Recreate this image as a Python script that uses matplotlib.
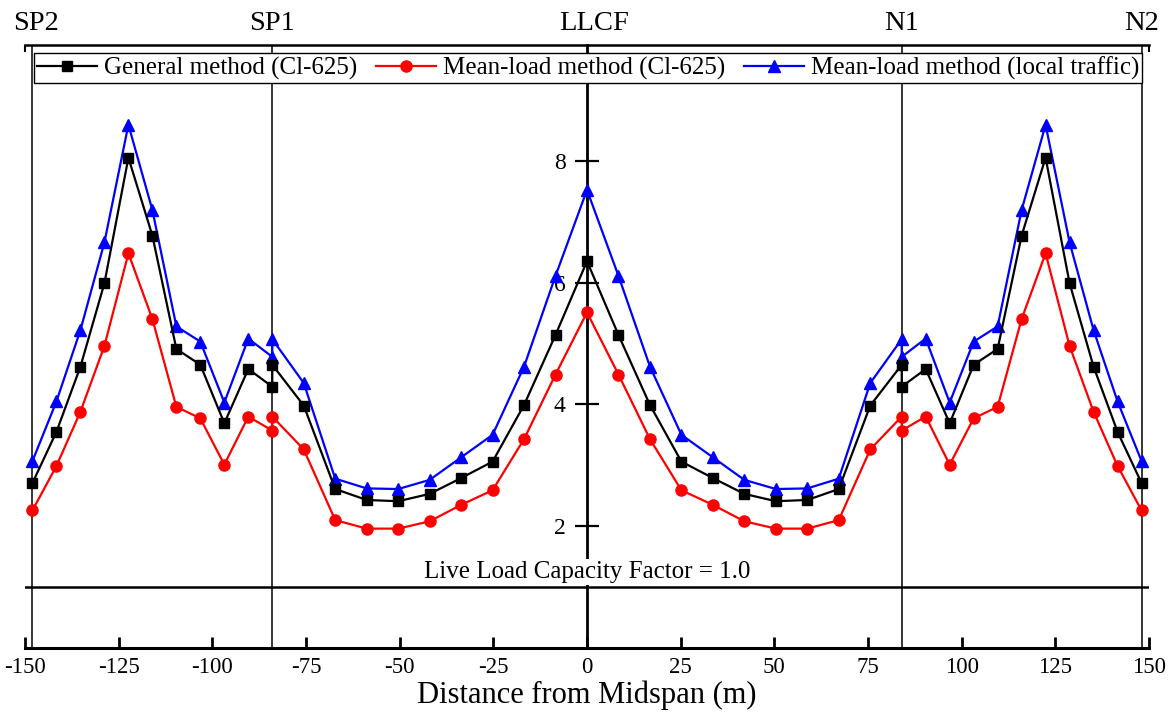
import matplotlib
matplotlib.use('Agg')
import matplotlib.pyplot as plt
import matplotlib.transforms as mtransforms

plt.rcParams['font.family'] = ['Liberation Serif', 'DejaVu Serif']
plt.rcParams['axes.unicode_minus'] = False

# ---------------- data ----------------
x_side_left = [-148.0, -141.6, -135.2, -128.8, -122.4, -116.0, -109.6, -103.2, -96.8, -90.4, -84.0]
x_main = [-84.0, -75.6, -67.2, -58.8, -50.4, -42.0, -33.6, -25.2, -16.8, -8.4, 0.0,
          8.4, 16.8, 25.2, 33.6, 42.0, 50.4, 58.8, 67.2, 75.6, 84.0]
x_side_right = [84.0, 90.4, 96.8, 103.2, 109.6, 116.0, 122.4, 128.8, 135.2, 141.6, 148.0]

general_left = [2.71, 3.55, 4.62, 5.99, 8.05, 6.77, 4.91, 4.65, 3.69, 4.58, 4.29]
general_main = [4.65, 3.98, 2.61, 2.43, 2.41, 2.53, 2.79, 3.06, 3.99, 5.14, 6.35,
                5.14, 3.99, 3.06, 2.79, 2.53, 2.41, 2.43, 2.61, 3.98, 4.65]
general_right = [4.29, 4.58, 3.69, 4.65, 4.91, 6.77, 8.05, 5.99, 4.62, 3.55, 2.71]

mean_cl_left = [2.26, 2.99, 3.88, 4.96, 6.48, 5.40, 3.96, 3.77, 3.01, 3.80, 3.57]
mean_cl_main = [3.80, 3.26, 2.10, 1.96, 1.96, 2.08, 2.35, 2.59, 3.43, 4.49, 5.51,
                4.49, 3.43, 2.59, 2.35, 2.08, 1.96, 1.96, 2.10, 3.26, 3.80]
mean_cl_right = [3.57, 3.80, 3.01, 3.77, 3.96, 5.40, 6.48, 4.96, 3.88, 2.99, 2.26]

mean_local_left = [3.07, 4.05, 5.22, 6.66, 8.59, 7.19, 5.28, 5.03, 4.03, 5.08, 4.78]
mean_local_main = [5.07, 4.35, 2.78, 2.62, 2.61, 2.76, 3.13, 3.50, 4.62, 6.11, 7.52,
                   6.11, 4.62, 3.50, 3.13, 2.76, 2.61, 2.62, 2.78, 4.35, 5.07]
mean_local_right = [4.78, 5.08, 4.03, 5.03, 5.28, 7.19, 8.59, 6.66, 5.22, 4.05, 3.07]

series_labels = ['General method (Cl-625)', 'Mean-load method (Cl-625)',
                 'Mean-load method (local traffic)']
support_pos = [-148.0, -84.0, 84.0, 148.0]
support_label_pos = [-147.0, -84.0, 84.0, 148.0]
support_names = ['SP2', 'SP1', 'N1', 'N2']
llcf_label_pos = 2.0
x_ticks = [-150, -125, -100, -75, -50, -25, 0, 25, 50, 75, 100, 125, 150]
y_ticks = [2, 4, 6, 8]
capacity_level = 1.0

# ---------------- figure ----------------
W, H = 1171, 715
fig = plt.figure(figsize=(W / 100, H / 100), dpi=100)
ax = fig.add_axes([25 / W, 67 / H, 1124 / W, 603 / H])

x_all = x_side_left + x_main + x_side_right
ax.plot(x_all, general_left + general_main + general_right, color='black', lw=1.6,
        marker='s', ms=7.5, label=series_labels[0], zorder=4)
ax.plot(x_all, mean_cl_left + mean_cl_main + mean_cl_right, color='#ff0000', lw=1.6,
        marker='o', ms=8, label=series_labels[1], zorder=3)
ax.plot(x_all, mean_local_left + mean_local_main + mean_local_right, color='#0000ff', lw=1.6,
        marker='^', ms=9, label=series_labels[2], zorder=3)

for xp in support_pos:
    ax.axvline(xp, color='black', lw=1.1, zorder=1)
ax.axhline(capacity_level, color='black', lw=1.8, zorder=1)

ax.set_xlim(-150, 150)
ax.set_ylim(0, 9.9)

ax.spines['left'].set_position(('data', 0))
ax.spines['left'].set_linewidth(2.0)
ax.spines['right'].set_visible(False)
ax.spines['bottom'].set_linewidth(2.2)
ax.spines['top'].set_linewidth(1.8)

ax.set_xticks(x_ticks)
ax.set_xticklabels([str(t) for t in x_ticks])
ax.set_yticks(y_ticks)
ax.set_yticklabels([str(t) for t in y_ticks])
ax.tick_params(axis='x', direction='in', length=8, width=2, labelsize=16.5, pad=6.5)
ax.tick_params(axis='y', direction='inout', length=17, width=1.6, labelsize=17, pad=7)

ax.set_xlabel('Distance from Midspan (m)', fontsize=22, labelpad=2)

# top end ticks
ax2 = ax.twiny()
ax2.set_xlim(ax.get_xlim())
ax2.set_xticks([-150, 150])
ax2.set_xticklabels(['', ''])
ax2.tick_params(axis='x', direction='in', length=5, width=1.5)
for s in ['left', 'right', 'bottom', 'top']:
    ax2.spines[s].set_visible(False)

# labels above the plot
trans = mtransforms.blended_transform_factory(ax.transData, ax.transAxes)
for xp, name in zip(support_label_pos, support_names):
    ax.text(xp, 1.025, name, transform=trans, ha='center', va='baseline', fontsize=20.5)
ax.text(llcf_label_pos, 1.025, 'LLCF', transform=trans, ha='center', va='baseline', fontsize=20.5)

ax.text(0, 1.15, 'Live Load Capacity Factor = 1.0', ha='center', va='baseline', fontsize=18,
        bbox=dict(facecolor='white', edgecolor='none', pad=1.5), zorder=5)

leg = ax.legend(loc='center', bbox_to_anchor=(588 / W, 1 - 68 / H),
                bbox_transform=fig.transFigure, ncol=3, fontsize=18, frameon=True,
                fancybox=False, framealpha=1, edgecolor='black', handlelength=2.4,
                handletextpad=0.28, columnspacing=0.75, borderpad=0.12, borderaxespad=0)
leg.get_frame().set_linewidth(1.0)
leg.set_zorder(10)

fig.savefig('out.png', dpi=100)
